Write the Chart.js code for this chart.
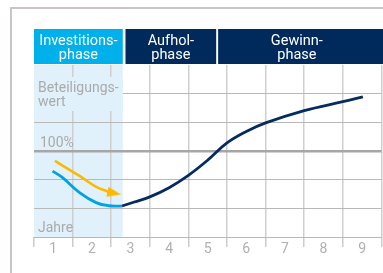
<!DOCTYPE html>
<html>
<head>
<meta charset="utf-8">
<script src="https://cdn.jsdelivr.net/npm/chart.js@4/dist/chart.umd.min.js"></script>
<style>
	html, body { margin: 0; padding: 0; overflow: hidden; background: #fff; }
	#wrap { width: 390px; height: 273px; }
</style>
</head>
<body>
<div id="wrap"><canvas id="chart" width="390" height="273"></canvas></div>
<script>
// years along the bottom, one per column
const years = ['1', '2', '3', '4', '5', '6', '7', '8', '9'];

// phases on top, in years
const phases = [['Investitions-', 'phase'], ['Aufhol-', 'phase'], ['Gewinn-', 'phase']];
const phaseFrom = [0, 2.37, 4.77];
const phaseTo = [2.3, 4.72, 8.85];

// value of the holding, in grid steps (100% = 3)
const investX = [0.48, 0.74, 1.18, 1.61, 1.94, 2.28];
const investY = [2.30, 2.07, 1.55, 1.20, 1.09, 1.08];
const valueX = [2.28, 2.6, 3.0, 3.5, 4.0, 4.5, 5.0, 5.5, 6.0, 7.0, 8.0, 8.52];
const valueY = [1.08, 1.22, 1.40, 1.72, 2.15, 2.68, 3.28, 3.68, 3.98, 4.41, 4.72, 4.89];

// yellow arrow
const arrowX = [0.54, 0.75, 1.18, 1.60, 1.91, 2.08];
const arrowY = [2.66, 2.48, 2.13, 1.76, 1.59, 1.53];

const yLabels = {top: ['Beteiligungs-', 'wert'], hundred: '100%', bottom: 'Jahre'};

const SHADE = '#e0f1fb';
const GREY_TEXT = '#aaaaaa';
const FONT = 'Roboto, "Noto Sans", sans-serif';

function points(xs, ys) {
	return xs.map(function(x, i) {
		return {x: x, y: ys[i]};
	});
}

function arrowHead() {
	const c = document.createElement('canvas');
	c.width = 14;
	c.height = 10;
	const g = c.getContext('2d');
	g.fillStyle = '#fbb900';
	g.beginPath();
	g.moveTo(0, 0);
	g.lineTo(14, 5);
	g.lineTo(0, 10);
	g.closePath();
	g.fill();
	return c;
}
const head = arrowHead();

const backdrop = {
	id: 'backdrop',
	beforeDraw(chart) {
		const ctx = chart.ctx;
		const a = chart.chartArea;
		const x = chart.scales.x;
		ctx.save();

		// frame
		ctx.strokeStyle = '#cac4c2';
		ctx.lineWidth = 2;
		ctx.beginPath();
		ctx.moveTo(11, chart.height);
		ctx.lineTo(11, 8);
		ctx.lineTo(chart.width, 8);
		ctx.stroke();

		// investment phase shading
		const shadeRight = x.getPixelForValue(phaseTo[0]);
		ctx.fillStyle = SHADE;
		ctx.fillRect(a.left, a.top, shadeRight - a.left, a.bottom - a.top);

		// phase header
		ctx.font = '14.5px ' + FONT;
		ctx.textAlign = 'center';
		ctx.textBaseline = 'alphabetic';
		phases.forEach(function(lines, i) {
			const l = x.getPixelForValue(phaseFrom[i]);
			const r = x.getPixelForValue(phaseTo[i]);
			const boxRight = i === phases.length - 1 ? chart.width : r;
			ctx.fillStyle = i === 0 ? '#00b0ea' : '#002a5b';
			ctx.fillRect(l, a.top - 36, boxRight - l, 35);
			ctx.fillStyle = '#ffffff';
			ctx.fillText(lines[0], (l + r) / 2, a.top - 20.5);
			ctx.fillText(lines[1], (l + r) / 2, a.top - 6.5);
		});
		ctx.restore();
	},
	beforeDatasetsDraw(chart) {
		const ctx = chart.ctx;
		const a = chart.chartArea;
		const x = chart.scales.x;
		const y = chart.scales.y;
		ctx.save();

		// label box hides the grid behind it
		const shadeRight = x.getPixelForValue(phaseTo[0]);
		ctx.fillStyle = SHADE;
		ctx.fillRect(a.left, a.top + 12, shadeRight - a.left, 34);

		ctx.fillStyle = GREY_TEXT;
		ctx.font = '14px ' + FONT;
		ctx.textAlign = 'left';
		ctx.textBaseline = 'alphabetic';
		ctx.fillText(yLabels.top[0], a.left + 4, a.top + 27.3);
		ctx.fillText(yLabels.top[1], a.left + 4, a.top + 40.7);
		ctx.fillText(yLabels.hundred, a.left + 6, y.getPixelForValue(3) - 4.5);
		ctx.fillText(yLabels.bottom, a.left + 4, a.bottom - 5.5);
		ctx.restore();
	}
};

const ticksX = [];
for (let i = 0; i <= years.length * 2; i++) {
	ticksX.push({value: i / 2});
}

new Chart(document.getElementById('chart'), {
	type: 'line',
	data: {
		datasets: [{
			data: points(investX, investY),
			borderColor: '#00a3e2',
			borderWidth: 2.8,
			pointRadius: 0,
			tension: 0.4
		}, {
			data: points(valueX, valueY),
			borderColor: '#052c5e',
			borderWidth: 2.8,
			pointRadius: 0,
			tension: 0.4
		}, {
			data: points(arrowX, arrowY),
			borderColor: '#fbb900',
			borderWidth: 2.6,
			tension: 0.4,
			pointRadius: function(c) {
				return c.dataIndex === arrowX.length - 1 ? 6 : 0;
			},
			pointStyle: function(c) {
				return c.dataIndex === arrowX.length - 1 ? head : 'circle';
			},
			pointRotation: 11
		}]
	},
	options: {
		responsive: false,
		animation: false,
		events: [],
		layout: {padding: {left: 34, top: 65, right: 4, bottom: 16}},
		plugins: {legend: {display: false}, tooltip: {enabled: false}},
		scales: {
			x: {
				type: 'linear',
				min: 0,
				max: years.length,
				afterBuildTicks: function(scale) {
					scale.ticks = ticksX.map(function(t) {
						return {value: t.value};
					});
				},
				afterFit: function(scale) {
					scale.height = 20;
				},
				border: {display: false},
				grid: {
					tickLength: 10,
					lineWidth: 1.5,
					color: function(c) {
						const v = c.tick.value;
						return v > 0 && v % 1 === 0 ? '#cfcfcf' : 'transparent';
					},
					tickColor: function(c) {
						return c.tick.value % 1 === 0 ? '#cccccc' : 'transparent';
					}
				},
				ticks: {
					autoSkip: false,
					maxRotation: 0,
					padding: -6,
					color: '#b0b0b0',
					font: {family: 'Roboto', size: 14},
					callback: function(v) {
						return v % 1 === 0 ? '' : years[Math.floor(v)];
					}
				}
			},
			y: {
				min: 0,
				max: 6,
				afterFit: function(scale) {
					scale.width = 0;
				},
				border: {display: false},
				grid: {
					drawTicks: false,
					lineWidth: function(c) {
						return c.tick.value === 3 ? 2.5 : 1;
					},
					color: function(c) {
						const v = c.tick.value;
						if (v === 6) {
							return 'transparent';
						}
						return v === 3 ? '#a6a6a6' : '#b8b8b8';
					}
				},
				ticks: {display: false, stepSize: 1}
			}
		}
	},
	plugins: [backdrop]
});
</script>
</body>
</html>
